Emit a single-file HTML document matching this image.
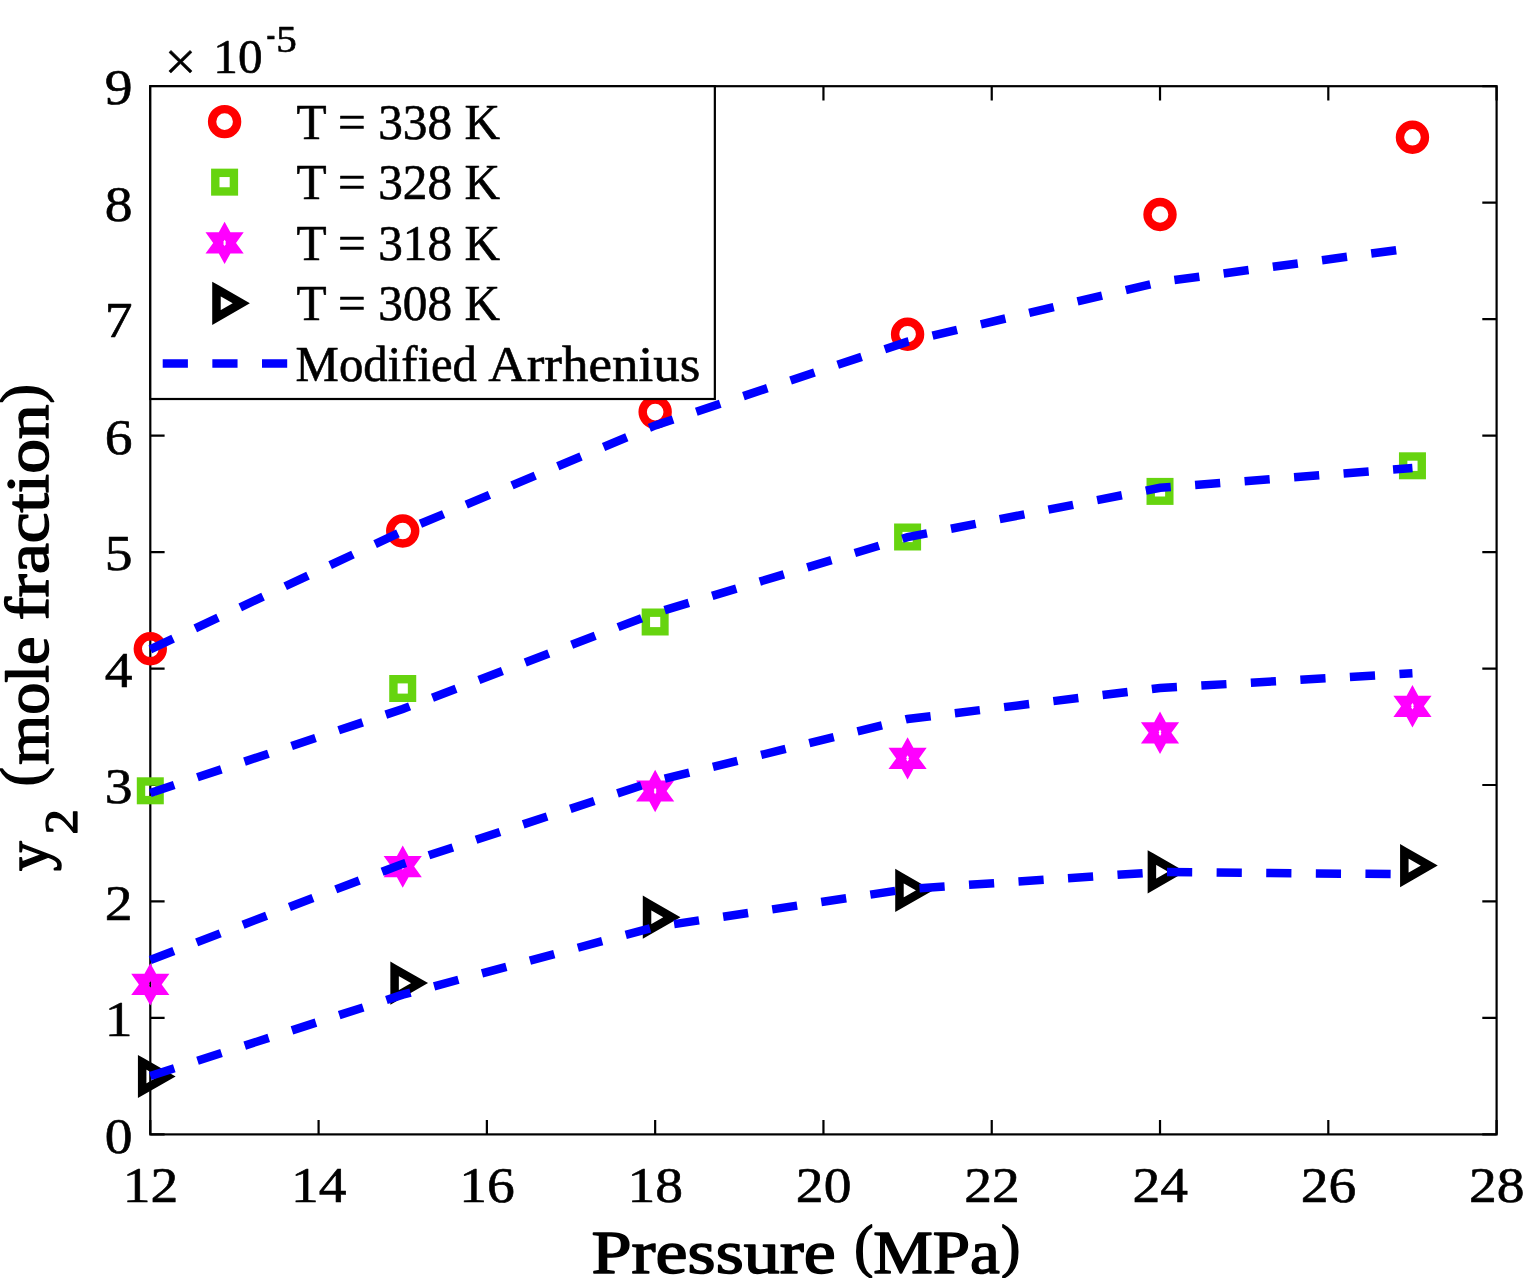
<!DOCTYPE html>
<html lang="en"><head><meta charset="utf-8"><title>Solubility vs pressure</title>
<style>html,body{margin:0;padding:0;background:#fff;}body{width:1523px;height:1278px;overflow:hidden;}svg{display:block;}text{font-family:"Liberation Serif", "DejaVu Serif", serif;fill:#000;}</style></head><body>
<svg width="1523" height="1278" viewBox="0 0 1523 1278" role="img" aria-label="Solubility (mole fraction) versus pressure with Modified Arrhenius fits">
<rect x="0" y="0" width="1523" height="1278" fill="#ffffff"/>
<g stroke="#000" stroke-width="2.2" fill="none" stroke-linecap="butt">
<rect x="150.3" y="86.2" width="1346.3" height="1048.2"/>
<path d="M150.3 1134.4 v-14.3 M150.3 86.2 v14.3"/>
<path d="M318.59 1134.4 v-14.3 M318.59 86.2 v14.3"/>
<path d="M486.88 1134.4 v-14.3 M486.88 86.2 v14.3"/>
<path d="M655.16 1134.4 v-14.3 M655.16 86.2 v14.3"/>
<path d="M823.45 1134.4 v-14.3 M823.45 86.2 v14.3"/>
<path d="M991.74 1134.4 v-14.3 M991.74 86.2 v14.3"/>
<path d="M1160.02 1134.4 v-14.3 M1160.02 86.2 v14.3"/>
<path d="M1328.31 1134.4 v-14.3 M1328.31 86.2 v14.3"/>
<path d="M1496.6 1134.4 v-14.3 M1496.6 86.2 v14.3"/>
<path d="M150.3 1134.4 h14.3 M1496.6 1134.4 h-14.3"/>
<path d="M150.3 1017.93 h14.3 M1496.6 1017.93 h-14.3"/>
<path d="M150.3 901.47 h14.3 M1496.6 901.47 h-14.3"/>
<path d="M150.3 785 h14.3 M1496.6 785 h-14.3"/>
<path d="M150.3 668.53 h14.3 M1496.6 668.53 h-14.3"/>
<path d="M150.3 552.07 h14.3 M1496.6 552.07 h-14.3"/>
<path d="M150.3 435.6 h14.3 M1496.6 435.6 h-14.3"/>
<path d="M150.3 319.13 h14.3 M1496.6 319.13 h-14.3"/>
<path d="M150.3 202.67 h14.3 M1496.6 202.67 h-14.3"/>
<path d="M150.3 86.2 h14.3 M1496.6 86.2 h-14.3"/>
</g>
<g>
<text x="104.85" y="1152.55" font-size="50.82" stroke="#000" stroke-width="0.6" stroke-linejoin="round" textLength="27.76" lengthAdjust="spacingAndGlyphs">0</text>
<text x="104.85" y="1036.08" font-size="50.82" stroke="#000" stroke-width="0.6" stroke-linejoin="round" textLength="27.76" lengthAdjust="spacingAndGlyphs">1</text>
<text x="104.85" y="919.62" font-size="50.82" stroke="#000" stroke-width="0.6" stroke-linejoin="round" textLength="27.76" lengthAdjust="spacingAndGlyphs">2</text>
<text x="104.85" y="803.15" font-size="50.82" stroke="#000" stroke-width="0.6" stroke-linejoin="round" textLength="27.76" lengthAdjust="spacingAndGlyphs">3</text>
<text x="104.85" y="686.68" font-size="50.82" stroke="#000" stroke-width="0.6" stroke-linejoin="round" textLength="27.76" lengthAdjust="spacingAndGlyphs">4</text>
<text x="104.85" y="570.22" font-size="50.82" stroke="#000" stroke-width="0.6" stroke-linejoin="round" textLength="27.76" lengthAdjust="spacingAndGlyphs">5</text>
<text x="104.85" y="453.75" font-size="50.82" stroke="#000" stroke-width="0.6" stroke-linejoin="round" textLength="27.76" lengthAdjust="spacingAndGlyphs">6</text>
<text x="104.85" y="337.28" font-size="50.82" stroke="#000" stroke-width="0.6" stroke-linejoin="round" textLength="27.76" lengthAdjust="spacingAndGlyphs">7</text>
<text x="104.85" y="220.82" font-size="50.82" stroke="#000" stroke-width="0.6" stroke-linejoin="round" textLength="27.76" lengthAdjust="spacingAndGlyphs">8</text>
<text x="104.85" y="104.35" font-size="50.82" stroke="#000" stroke-width="0.6" stroke-linejoin="round" textLength="27.76" lengthAdjust="spacingAndGlyphs">9</text>
<text x="150.5" y="1201.55" font-size="50.82" text-anchor="middle" stroke="#000" stroke-width="0.6" stroke-linejoin="round" textLength="55.52" lengthAdjust="spacingAndGlyphs">12</text>
<text x="318.79" y="1201.55" font-size="50.82" text-anchor="middle" stroke="#000" stroke-width="0.6" stroke-linejoin="round" textLength="55.52" lengthAdjust="spacingAndGlyphs">14</text>
<text x="487.07" y="1201.55" font-size="50.82" text-anchor="middle" stroke="#000" stroke-width="0.6" stroke-linejoin="round" textLength="55.52" lengthAdjust="spacingAndGlyphs">16</text>
<text x="655.36" y="1201.55" font-size="50.82" text-anchor="middle" stroke="#000" stroke-width="0.6" stroke-linejoin="round" textLength="55.52" lengthAdjust="spacingAndGlyphs">18</text>
<text x="823.65" y="1201.55" font-size="50.82" text-anchor="middle" stroke="#000" stroke-width="0.6" stroke-linejoin="round" textLength="55.52" lengthAdjust="spacingAndGlyphs">20</text>
<text x="991.94" y="1201.55" font-size="50.82" text-anchor="middle" stroke="#000" stroke-width="0.6" stroke-linejoin="round" textLength="55.52" lengthAdjust="spacingAndGlyphs">22</text>
<text x="1160.22" y="1201.55" font-size="50.82" text-anchor="middle" stroke="#000" stroke-width="0.6" stroke-linejoin="round" textLength="55.52" lengthAdjust="spacingAndGlyphs">24</text>
<text x="1328.51" y="1201.55" font-size="50.82" text-anchor="middle" stroke="#000" stroke-width="0.6" stroke-linejoin="round" textLength="55.52" lengthAdjust="spacingAndGlyphs">26</text>
<text x="1496.8" y="1201.55" font-size="50.82" text-anchor="middle" stroke="#000" stroke-width="0.6" stroke-linejoin="round" textLength="55.52" lengthAdjust="spacingAndGlyphs">28</text>
</g>
<g>
<text x="164.55" y="80.45" font-size="55.19" stroke="#000" stroke-width="0.5" stroke-linejoin="round" textLength="31.86" lengthAdjust="spacingAndGlyphs">×</text>
<text x="213.3" y="73" font-size="47.62" stroke="#000" stroke-width="0.6" stroke-linejoin="round" textLength="49.21" lengthAdjust="spacingAndGlyphs">10</text>
<text x="266.55" y="46.9" font-size="37.78" stroke="#000" stroke-width="0.6" stroke-linejoin="round" textLength="8.67" lengthAdjust="spacingAndGlyphs">-</text>
<text x="276.3" y="51.6" font-size="37.11" stroke="#000" stroke-width="0.6" stroke-linejoin="round" textLength="20.55" lengthAdjust="spacingAndGlyphs">5</text>
</g>
<g>
<text x="591.45" y="1272.55" font-size="61.53" stroke="#000" stroke-width="1.5" stroke-linejoin="round" textLength="244.36" lengthAdjust="spacingAndGlyphs">Pressure</text>
<text x="854.35" y="1265.75" font-size="59.12" stroke="#000" stroke-width="1.5" stroke-linejoin="round" textLength="19.16" lengthAdjust="spacingAndGlyphs">(</text>
<text x="873.2" y="1272.55" font-size="61.53" stroke="#000" stroke-width="1.5" stroke-linejoin="round" textLength="126.71" lengthAdjust="spacingAndGlyphs">MPa</text>
<text x="1001.05" y="1265.75" font-size="59.07" stroke="#000" stroke-width="1.5" stroke-linejoin="round" textLength="19.32" lengthAdjust="spacingAndGlyphs">)</text>
</g>
<g transform="translate(49 880) rotate(-90)">
<text x="9" y="-0.75" font-size="61.53" stroke="#000" stroke-width="1.5" stroke-linejoin="round" textLength="29.68" lengthAdjust="spacingAndGlyphs">y</text>
<text x="45.5" y="27.9" font-size="47.27" stroke="#000" stroke-width="1.27" stroke-linejoin="round" textLength="25.43" lengthAdjust="spacingAndGlyphs">2</text>
<text x="93.75" y="-7.55" font-size="59.12" stroke="#000" stroke-width="1.5" stroke-linejoin="round" textLength="19.16" lengthAdjust="spacingAndGlyphs">(</text>
<text x="115.3" y="-0.75" font-size="61.53" stroke="#000" stroke-width="1.5" stroke-linejoin="round" textLength="128.15" lengthAdjust="spacingAndGlyphs">mole</text>
<text x="259.75" y="-0.75" font-size="61.53" stroke="#000" stroke-width="1.5" stroke-linejoin="round" textLength="215.78" lengthAdjust="spacingAndGlyphs">fraction</text>
<text x="476.45" y="-7.55" font-size="59.07" stroke="#000" stroke-width="1.5" stroke-linejoin="round" textLength="19.32" lengthAdjust="spacingAndGlyphs">)</text>
</g>
<g>
<circle cx="150.3" cy="648.8" r="12.5" fill="none" stroke="#ff0000" stroke-width="8.4"/>
<circle cx="402.73" cy="531.05" r="12.5" fill="none" stroke="#ff0000" stroke-width="8.4"/>
<circle cx="655.16" cy="412.1" r="12.5" fill="none" stroke="#ff0000" stroke-width="8.4"/>
<circle cx="907.59" cy="334.2" r="12.5" fill="none" stroke="#ff0000" stroke-width="8.4"/>
<circle cx="1160.02" cy="214.5" r="12.5" fill="none" stroke="#ff0000" stroke-width="8.4"/>
<circle cx="1412.46" cy="137.3" r="12.5" fill="none" stroke="#ff0000" stroke-width="8.4"/>
<rect x="141" y="781.5" width="18.6" height="18.6" fill="none" stroke="#66d40f" stroke-width="8.4"/>
<rect x="393.43" y="679.2" width="18.6" height="18.6" fill="none" stroke="#66d40f" stroke-width="8.4"/>
<rect x="645.86" y="612.7" width="18.6" height="18.6" fill="none" stroke="#66d40f" stroke-width="8.4"/>
<rect x="898.29" y="527.7" width="18.6" height="18.6" fill="none" stroke="#66d40f" stroke-width="8.4"/>
<rect x="1150.72" y="482.1" width="18.6" height="18.6" fill="none" stroke="#66d40f" stroke-width="8.4"/>
<rect x="1403.16" y="456.5" width="18.6" height="18.6" fill="none" stroke="#66d40f" stroke-width="8.4"/>
<path d="M150.3 963.2 L156.1 973.8 L169.4 973.8 L161.7 984.4 L169.4 995 L156.1 995 L150.3 1005.6 L144.5 995 L131.2 995 L138.9 984.4 L131.2 973.8 L144.5 973.8 Z M150.3 981.2 L151.7 983.4 L151 984.4 L151.7 985.4 L150.3 987.6 L148.9 985.4 L149.6 984.4 L148.9 983.4 Z" fill="#ff00ff" fill-rule="evenodd"/>
<path d="M402.73 845.4 L408.53 856 L421.83 856 L414.13 866.6 L421.83 877.2 L408.53 877.2 L402.73 887.8 L396.93 877.2 L383.63 877.2 L391.33 866.6 L383.63 856 L396.93 856 Z M402.73 863.4 L404.13 865.6 L403.43 866.6 L404.13 867.6 L402.73 869.8 L401.33 867.6 L402.03 866.6 L401.33 865.6 Z" fill="#ff00ff" fill-rule="evenodd"/>
<path d="M655.16 769.8 L660.96 780.4 L674.26 780.4 L666.56 791 L674.26 801.6 L660.96 801.6 L655.16 812.2 L649.36 801.6 L636.06 801.6 L643.76 791 L636.06 780.4 L649.36 780.4 Z M655.16 787.8 L656.56 790 L655.86 791 L656.56 792 L655.16 794.2 L653.76 792 L654.46 791 L653.76 790 Z" fill="#ff00ff" fill-rule="evenodd"/>
<path d="M907.59 737.2 L913.39 747.8 L926.69 747.8 L918.99 758.4 L926.69 769 L913.39 769 L907.59 779.6 L901.79 769 L888.49 769 L896.19 758.4 L888.49 747.8 L901.79 747.8 Z M907.59 755.2 L908.99 757.4 L908.29 758.4 L908.99 759.4 L907.59 761.6 L906.19 759.4 L906.89 758.4 L906.19 757.4 Z" fill="#ff00ff" fill-rule="evenodd"/>
<path d="M1160.02 711.6 L1165.82 722.2 L1179.12 722.2 L1171.42 732.8 L1179.12 743.4 L1165.82 743.4 L1160.02 754 L1154.22 743.4 L1140.92 743.4 L1148.62 732.8 L1140.92 722.2 L1154.22 722.2 Z M1160.02 729.6 L1161.42 731.8 L1160.72 732.8 L1161.42 733.8 L1160.02 736 L1158.62 733.8 L1159.32 732.8 L1158.62 731.8 Z" fill="#ff00ff" fill-rule="evenodd"/>
<path d="M1412.46 685.1 L1418.26 695.7 L1431.56 695.7 L1423.86 706.3 L1431.56 716.9 L1418.26 716.9 L1412.46 727.5 L1406.66 716.9 L1393.36 716.9 L1401.06 706.3 L1393.36 695.7 L1406.66 695.7 Z M1412.46 703.1 L1413.86 705.3 L1413.16 706.3 L1413.86 707.3 L1412.46 709.5 L1411.06 707.3 L1411.76 706.3 L1411.06 705.3 Z" fill="#ff00ff" fill-rule="evenodd"/>
<path d="M142.17 1062.25 L167.05 1076.5 L142.17 1090.75 Z" fill="none" stroke="#000000" stroke-width="8.5" stroke-linejoin="miter" stroke-miterlimit="10"/>
<path d="M394.6 968.85 L419.49 983.1 L394.6 997.35 Z" fill="none" stroke="#000000" stroke-width="8.5" stroke-linejoin="miter" stroke-miterlimit="10"/>
<path d="M647.04 902.95 L671.92 917.2 L647.04 931.45 Z" fill="none" stroke="#000000" stroke-width="8.5" stroke-linejoin="miter" stroke-miterlimit="10"/>
<path d="M899.47 876.15 L924.35 890.4 L899.47 904.65 Z" fill="none" stroke="#000000" stroke-width="8.5" stroke-linejoin="miter" stroke-miterlimit="10"/>
<path d="M1151.9 857.55 L1176.78 871.8 L1151.9 886.05 Z" fill="none" stroke="#000000" stroke-width="8.5" stroke-linejoin="miter" stroke-miterlimit="10"/>
<path d="M1404.33 851.35 L1429.21 865.6 L1404.33 879.85 Z" fill="none" stroke="#000000" stroke-width="8.5" stroke-linejoin="miter" stroke-miterlimit="10"/>
</g>
<g>
<path d="M150.3 649.4 L402.73 531.2 L655.16 425.4 L907.59 341.6 L1160.02 282 L1412.46 248" fill="none" stroke="#0000ff" stroke-width="8.5" stroke-dasharray="25.2 24.45" stroke-linejoin="miter"/>
<path d="M150.3 793 L402.73 709 L655.16 613 L907.59 537.2 L1160.02 487.8 L1412.46 468" fill="none" stroke="#0000ff" stroke-width="8.5" stroke-dasharray="25.2 24.44" stroke-linejoin="miter"/>
<path d="M150.3 960 L402.73 863.9 L655.16 781 L907.59 719 L1160.02 688 L1412.46 673.3" fill="none" stroke="#0000ff" stroke-width="8.5" stroke-dasharray="25.2 24.41" stroke-linejoin="miter"/>
<path d="M150.3 1076 L402.73 994.7 L655.16 927 L907.59 889 L1160.02 872 L1412.46 874.3" fill="none" stroke="#0000ff" stroke-width="8.5" stroke-dasharray="25.2 24.41" stroke-linejoin="miter"/>
</g>
<g>
<rect x="150.3" y="86.2" width="564.55" height="312.8" fill="#fff" stroke="#000" stroke-width="2.2"/>
<circle cx="224.6" cy="121.65" r="12.5" fill="none" stroke="#ff0000" stroke-width="8.4"/>
<rect x="215.3" y="172.85" width="18.6" height="18.6" fill="none" stroke="#66d40f" stroke-width="8.4"/>
<path d="M224.6 221.7 L230.4 232.3 L243.7 232.3 L236 242.9 L243.7 253.5 L230.4 253.5 L224.6 264.1 L218.8 253.5 L205.5 253.5 L213.2 242.9 L205.5 232.3 L218.8 232.3 Z M224.6 239.7 L226 241.9 L225.3 242.9 L226 243.9 L224.6 246.1 L223.2 243.9 L223.9 242.9 L223.2 241.9 Z" fill="#ff00ff" fill-rule="evenodd"/>
<path d="M216.47 289.05 L241.35 303.3 L216.47 317.55 Z" fill="none" stroke="#000000" stroke-width="8.5" stroke-linejoin="miter" stroke-miterlimit="10"/>
<path d="M162.7 363.6 H287.5" fill="none" stroke="#0000ff" stroke-width="8.5" stroke-dasharray="25.2 24.45"/>
<text x="296.5" y="138.75" font-size="49.85" stroke="#000" stroke-width="0.6" stroke-linejoin="round" textLength="203.5" lengthAdjust="spacingAndGlyphs" xml:space="preserve">T = 338 K</text>
<text x="296.5" y="199.2" font-size="49.85" stroke="#000" stroke-width="0.6" stroke-linejoin="round" textLength="203.5" lengthAdjust="spacingAndGlyphs" xml:space="preserve">T = 328 K</text>
<text x="296.5" y="259.65" font-size="49.85" stroke="#000" stroke-width="0.6" stroke-linejoin="round" textLength="203.5" lengthAdjust="spacingAndGlyphs" xml:space="preserve">T = 318 K</text>
<text x="296.5" y="320.1" font-size="49.85" stroke="#000" stroke-width="0.6" stroke-linejoin="round" textLength="203.5" lengthAdjust="spacingAndGlyphs" xml:space="preserve">T = 308 K</text>
<text x="295.6" y="380.55" font-size="49.85" stroke="#000" stroke-width="0.6" stroke-linejoin="round" textLength="181.38" lengthAdjust="spacingAndGlyphs">Modified</text>
<text x="488.35" y="380.55" font-size="49.85" stroke="#000" stroke-width="0.6" stroke-linejoin="round" textLength="211.99" lengthAdjust="spacingAndGlyphs">Arrhenius</text>
</g>
</svg></body></html>
